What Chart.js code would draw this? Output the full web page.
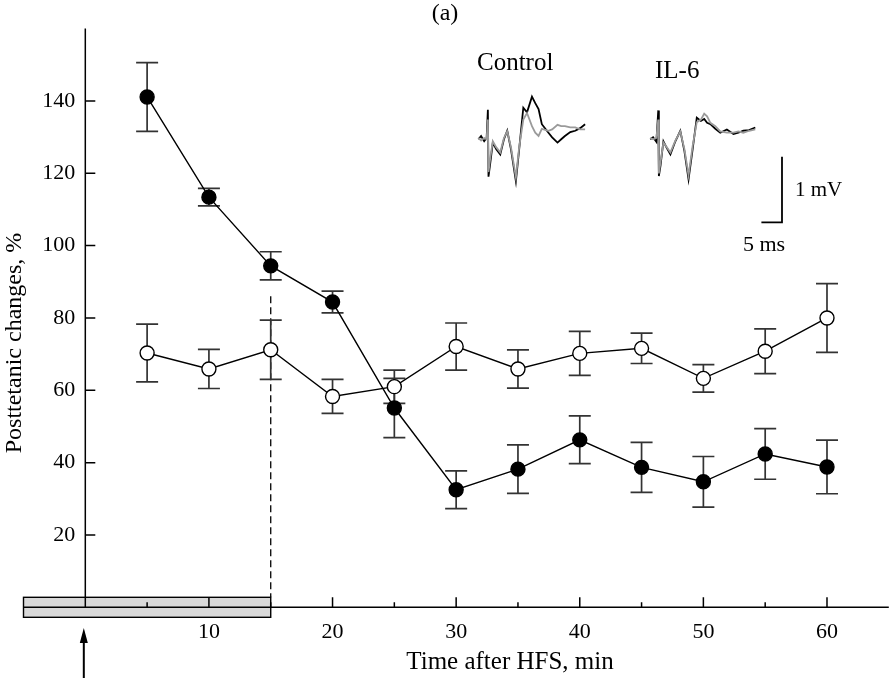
<!DOCTYPE html>
<html>
<head>
<meta charset="utf-8">
<script src="https://cdn.jsdelivr.net/npm/chart.js@4.4.1/dist/chart.umd.min.js"></script>
<style>
  html, body { margin: 0; padding: 0; background: #fff; }
  #wrap { width: 890px; height: 678px; }
</style>
</head>
<body>
<div id="wrap"><canvas id="chart"></canvas></div>
<script>
// time after HFS, min
var timePoints = [5, 10, 15, 20, 25, 30, 35, 40, 45, 50, 55, 60];
// filled circles
var filledMean = [141.1, 113.4, 94.4, 84.4, 55.1, 32.5, 38.2, 46.3, 38.7, 34.7, 42.4, 38.8];
var filledErr  = [9.5, 2.4, 3.9, 3.0, 8.2, 5.2, 6.7, 6.6, 6.9, 7.0, 7.0, 7.4];
// open circles
var openMean = [70.3, 65.9, 71.2, 58.3, 61.0, 72.1, 65.9, 70.2, 71.6, 63.3, 70.8, 80.0];
var openErr  = [8.0, 5.4, 8.2, 4.7, 4.6, 6.5, 5.3, 6.1, 4.2, 3.8, 6.2, 9.5];

var xTickLabels = [10, 20, 30, 40, 50, 60];
var xMinorTicks = [5, 15, 25, 35, 45, 55];
var yTickLabels = [20, 40, 60, 80, 100, 120, 140];

// inset traces (ms, mV)
var ctrlTime  = [0, 0.65, 1.4, 2.0, 2.3, 2.45, 2.85, 3.5, 4.3, 5.3, 6.2, 7.0, 7.9, 9.1, 9.9, 10.9, 11.8, 13.0, 13.8, 14.6, 15.4, 17.0, 17.9, 19.2, 20.1, 21.0, 22.3, 23.5, 24.7, 25.9];
var ctrlBlack = [0, 0.05, -0.03, 0.02, 0.45, -0.57, -0.38, -0.05, -0.15, -0.23, 0, 0.13, -0.15, -0.64, -0.15, 0.48, 0.41, 0.65, 0.55, 0.46, 0.23, 0.1, 0.03, -0.05, 0, 0.05, 0.11, 0.13, 0.17, 0.23];
var ctrlGray  = [0.02, -0.02, 0.02, 0, 0.3, -0.5, -0.3, -0.03, -0.12, -0.2, 0.02, 0.12, -0.12, -0.58, -0.12, 0.3, 0.4, 0.2, 0.1, 0.05, 0.16, 0.13, 0.15, 0.22, 0.2, 0.2, 0.18, 0.18, 0.15, 0.15];
var il6Time  = [0, 0.7, 1.5, 1.95, 2.1, 2.5, 3.2, 4.0, 4.9, 6.1, 7.3, 8.3, 9.3, 10.3, 11.3, 12.3, 13.1, 13.8, 14.6, 15.8, 17.0, 18.6, 20.2, 21.4, 22.6, 24.0, 25.5];
var il6Black = [0, 0.03, -0.04, 0.44, -0.56, -0.4, -0.03, -0.13, -0.23, -0.03, 0.13, -0.18, -0.61, -0.15, 0.33, 0.28, 0.31, 0.25, 0.23, 0.16, 0.1, 0.15, 0.08, 0.1, 0.13, 0.14, 0.18];
var il6Gray  = [0.02, 0, 0.02, 0.3, -0.52, -0.35, -0.05, -0.12, -0.2, -0.02, 0.12, -0.15, -0.55, -0.1, 0.26, 0.3, 0.39, 0.35, 0.25, 0.2, 0.12, 0.1, 0.1, 0.12, 0.1, 0.13, 0.15];

var xMin = -5, xMax = 65, yMin = 0, yMax = 160;
// inset placement, in main axis units
var ctrlX0 = 31.8, il6X0 = 45.7, traceBaseY = 129.4;
var minPerMs = 0.3333, unitsPerMv = 18.14;

function font(px) {
    return px + 'px "Liberation Serif", "Times New Roman", serif';
}

function pts(xs, ys) {
    return xs.map(function (x, i) { return { x: x, y: ys[i] }; });
}

var figurePlugin = {
    id: 'figure',
    beforeDatasetsDraw: function (chart) {
        var ctx = chart.ctx, x = chart.scales.x, y = chart.scales.y;
        var x0 = x.getPixelForValue(0), y0 = y.getPixelForValue(0);
        ctx.save();
        // HFS bar
        var bl = x.getPixelForValue(xMin), br = x.getPixelForValue(15);
        ctx.fillStyle = '#d9d9d9';
        ctx.fillRect(bl, y0 - 10, br - bl, 20);
        ctx.strokeStyle = '#000';
        ctx.lineWidth = 1.4;
        ctx.strokeRect(bl, y0 - 10, br - bl, 20);
        // axes
        ctx.lineWidth = 1.5;
        ctx.beginPath();
        ctx.moveTo(x.getPixelForValue(xMin), y0);
        ctx.lineTo(x.getPixelForValue(xMax), y0);
        ctx.moveTo(x0, y0);
        ctx.lineTo(x0, y.getPixelForValue(yMax));
        yTickLabels.forEach(function (v) {
            var p = y.getPixelForValue(v);
            ctx.moveTo(x0, p); ctx.lineTo(x0 + 10, p);
        });
        xTickLabels.forEach(function (v) {
            var p = x.getPixelForValue(v);
            ctx.moveTo(p, y0); ctx.lineTo(p, y0 - 10);
        });
        xMinorTicks.forEach(function (v) {
            var p = x.getPixelForValue(v);
            ctx.moveTo(p, y0); ctx.lineTo(p, y0 - 5);
        });
        ctx.stroke();
        // dashed line at end of HFS
        ctx.lineWidth = 1.3;
        ctx.setLineDash([7, 4]);
        ctx.beginPath();
        ctx.moveTo(br, y.getPixelForValue(86));
        ctx.lineTo(br, y0 - 10);
        ctx.stroke();
        ctx.setLineDash([]);
        // error bars
        ctx.strokeStyle = '#333';
        ctx.lineWidth = 1.7;
        [[filledMean, filledErr], [openMean, openErr]].forEach(function (s) {
            timePoints.forEach(function (t, i) {
                var px = x.getPixelForValue(t);
                var top = y.getPixelForValue(s[0][i] + s[1][i]);
                var bot = y.getPixelForValue(s[0][i] - s[1][i]);
                ctx.beginPath();
                ctx.moveTo(px, top); ctx.lineTo(px, bot);
                ctx.moveTo(px - 11, top); ctx.lineTo(px + 11, top);
                ctx.moveTo(px - 11, bot); ctx.lineTo(px + 11, bot);
                ctx.stroke();
            });
        });
        ctx.restore();
    },
    afterDraw: function (chart) {
        var ctx = chart.ctx, x = chart.scales.x, y = chart.scales.y;
        var x0 = x.getPixelForValue(0), y0 = y.getPixelForValue(0);
        ctx.save();
        ctx.fillStyle = '#000';
        ctx.font = font(22);
        ctx.textBaseline = 'middle';
        // tick labels
        ctx.textAlign = 'right';
        yTickLabels.forEach(function (v) {
            ctx.fillText(String(v), x0 - 10, y.getPixelForValue(v));
        });
        ctx.textAlign = 'center';
        xTickLabels.forEach(function (v) {
            ctx.fillText(String(v), x.getPixelForValue(v), y0 + 25);
        });
        ctx.font = font(25);
        ctx.fillText('Time after HFS, min', 510, 662);
        ctx.font = font(24);
        ctx.fillText('(a)', 445, 14);
        ctx.save();
        ctx.translate(15, 343);
        ctx.rotate(-Math.PI / 2);
        ctx.fillText('Posttetanic changes, %', 0, 0);
        ctx.restore();
        // inset labels
        ctx.textAlign = 'left';
        ctx.font = font(25);
        ctx.fillText('Control', 477, 63);
        ctx.fillText('IL-6', 655, 71);
        ctx.font = font(21);
        ctx.fillText('1 mV', 795, 190);
        ctx.font = font(22);
        ctx.fillText('5 ms', 743, 245);
        // scale bar
        var tc = chart.scales.tc, mv = chart.scales.mv;
        var cx = x.getPixelForValue(56.36), cy = y.getPixelForValue(106.4);
        var w = tc.getPixelForValue(5) - tc.getPixelForValue(0);
        var h = mv.getPixelForValue(0) - mv.getPixelForValue(1);
        ctx.strokeStyle = '#000';
        ctx.lineWidth = 1.8;
        ctx.beginPath();
        ctx.moveTo(cx - w, cy); ctx.lineTo(cx, cy); ctx.lineTo(cx, cy - h);
        ctx.stroke();
        // HFS arrow
        ctx.lineWidth = 2;
        ctx.beginPath();
        ctx.moveTo(x0 - 1.5, 678); ctx.lineTo(x0 - 1.5, 640);
        ctx.stroke();
        ctx.beginPath();
        ctx.moveTo(x0 - 1.5, 628); ctx.lineTo(x0 - 5.5, 643); ctx.lineTo(x0 + 2.5, 643);
        ctx.closePath();
        ctx.fill();
        ctx.restore();
    }
};

var traceStyle = { pointRadius: 0, borderWidth: 1.8, tension: 0, yAxisID: 'mv' };

new Chart(document.getElementById('chart'), {
    type: 'line',
    data: {
        datasets: [
            Object.assign({ data: pts(ctrlTime, ctrlGray), borderColor: '#9a9a9a', xAxisID: 'tc', order: 1 }, traceStyle),
            Object.assign({ data: pts(ctrlTime, ctrlBlack), borderColor: '#000', xAxisID: 'tc', order: 2 }, traceStyle),
            Object.assign({ data: pts(il6Time, il6Gray), borderColor: '#9a9a9a', xAxisID: 'ti', order: 1 }, traceStyle),
            Object.assign({ data: pts(il6Time, il6Black), borderColor: '#000', xAxisID: 'ti', order: 2 }, traceStyle),
            {
                data: pts(timePoints, openMean),
                borderColor: '#000', borderWidth: 1.4,
                pointRadius: 7, pointBorderWidth: 1.4,
                pointBackgroundColor: '#fff', pointBorderColor: '#000',
                tension: 0, xAxisID: 'x', yAxisID: 'y', order: 3
            },
            {
                data: pts(timePoints, filledMean),
                borderColor: '#000', borderWidth: 1.4,
                pointRadius: 7, pointBorderWidth: 1.4,
                pointBackgroundColor: '#000', pointBorderColor: '#000',
                tension: 0, xAxisID: 'x', yAxisID: 'y', order: 4
            }
        ]
    },
    options: {
        responsive: true,
        maintainAspectRatio: false,
        animation: false,
        layout: { autoPadding: false, padding: { left: 23.5, right: 1.2, top: 28.6, bottom: 70.7 } },
        plugins: { legend: { display: false }, tooltip: { enabled: false } },
        scales: {
            x: { type: 'linear', min: xMin, max: xMax, display: false },
            y: { type: 'linear', min: yMin, max: yMax, display: false },
            tc: { type: 'linear', display: false, axis: 'x',
                  min: (xMin - ctrlX0) / minPerMs, max: (xMax - ctrlX0) / minPerMs },
            ti: { type: 'linear', display: false, axis: 'x',
                  min: (xMin - il6X0) / minPerMs, max: (xMax - il6X0) / minPerMs },
            mv: { type: 'linear', display: false, axis: 'y',
                  min: (yMin - traceBaseY) / unitsPerMv, max: (yMax - traceBaseY) / unitsPerMv }
        }
    },
    plugins: [figurePlugin]
});
</script>
</body>
</html>
